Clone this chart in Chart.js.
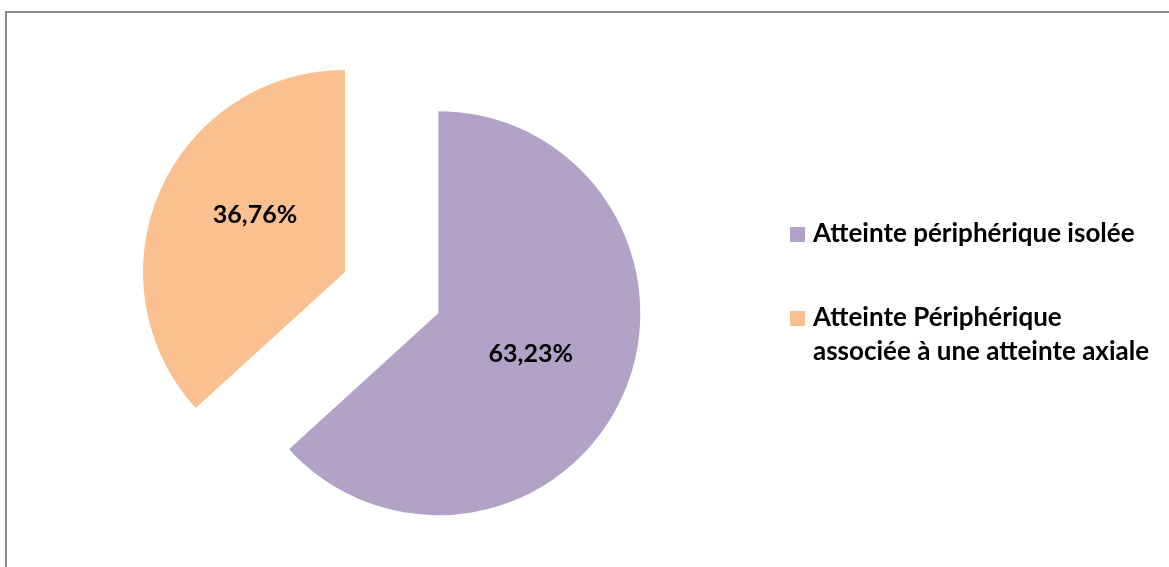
<!DOCTYPE html>
<html lang="fr">
<head>
<meta charset="utf-8">
<title>Répartition de l'atteinte périphérique</title>
<script src="https://cdn.jsdelivr.net/npm/chart.js@4/dist/chart.umd.min.js"></script>
<style>
  html, body { margin: 0; padding: 0; background: #ffffff; }
  #wrap { position: relative; width: 1169px; height: 567px; }
  canvas { display: block; }
</style>
</head>
<body>
<div id="wrap"><canvas id="pie" width="1169" height="567"></canvas></div>
<script>
// Categories and their shares (%)
const categories = [
  'Atteinte périphérique isolée',
  ['Atteinte Périphérique', 'associée à une atteinte axiale']
];
const shares = [63.23, 36.76];
const shareLabels = ['63,23%', '36,76%'];
const sliceColors = ['#B3A2C7', '#FAC090'];

const FONT = 'Lato, "Open Sans", "Liberation Sans", sans-serif';
const LEGEND_SIZE = 26;
const LABEL_SIZE = 25;

// Thin grey frame along the top and left edges
const framePlugin = {
  id: 'frame',
  beforeDraw(chart) {
    const ctx = chart.ctx;
    ctx.save();
    ctx.fillStyle = '#8c8c8c';
    ctx.fillRect(5, 11, 2, chart.height - 11);
    ctx.fillRect(5, 11, chart.width - 5, 2);
    ctx.restore();
  }
};

// Pull slices out of the pie along their mid-angle without changing their radius
const explodePlugin = {
  id: 'explode',
  beforeDatasetDraw(chart, args, opts) {
    args.meta.data.forEach((arc, i) => {
      const dist = opts.distances[i] || 0;
      if (!arc.$baseDraw) arc.$baseDraw = arc.draw;
      arc.draw = function (ctx, area) {
        const mid = (this.startAngle + this.endAngle) / 2;
        ctx.save();
        ctx.translate(Math.cos(mid) * dist, Math.sin(mid) * dist);
        this.$baseDraw(ctx, area);
        ctx.restore();
      };
    });
  }
};

// Percentage labels placed inside each (exploded) slice
const sliceLabelPlugin = {
  id: 'sliceLabels',
  afterDatasetsDraw(chart, args, opts) {
    const ctx = chart.ctx;
    const meta = chart.getDatasetMeta(0);
    const distances = chart.options.plugins.explode.distances;
    ctx.save();
    ctx.font = `bold ${LABEL_SIZE}px ${FONT}`;
    ctx.fillStyle = '#000000';
    ctx.textAlign = 'center';
    ctx.textBaseline = 'middle';
    meta.data.forEach((arc, i) => {
      const mid = (arc.startAngle + arc.endAngle) / 2;
      const dist = distances[i] || 0;
      const cx = arc.x + Math.cos(mid) * dist;
      const cy = arc.y + Math.sin(mid) * dist;
      const place = opts.placement[i];
      const a = mid + place.turn * Math.PI / 180;
      const r = arc.outerRadius * place.frac;
      ctx.fillText(shareLabels[i], cx + Math.cos(a) * r, cy + Math.sin(a) * r);
    });
    ctx.restore();
  }
};

// Legend on the right: colour square + bold (possibly multi-line) text
const sideLegendPlugin = {
  id: 'sideLegend',
  afterDraw(chart, args, opts) {
    const ctx = chart.ctx;
    const ds = chart.data.datasets[0];
    ctx.save();
    ctx.font = `bold ${LEGEND_SIZE}px ${FONT}`;
    ctx.textAlign = 'left';
    ctx.textBaseline = 'alphabetic';
    let baseline = opts.top;
    chart.data.labels.forEach((label, i) => {
      const lines = Array.isArray(label) ? label : [label];
      ctx.fillStyle = ds.backgroundColor[i];
      ctx.fillRect(opts.left, baseline - opts.box, opts.box, opts.box);
      ctx.fillStyle = '#000000';
      lines.forEach((line, k) => {
        ctx.fillText(line, opts.left + opts.box + opts.gap, baseline + k * opts.lineHeight);
      });
      baseline += opts.itemSpacing;
    });
    ctx.restore();
  }
};

function draw() {
  new Chart(document.getElementById('pie'), {
    type: 'pie',
    data: {
      labels: categories,
      datasets: [{
        data: shares,
        backgroundColor: sliceColors,
        borderWidth: 0,
        hoverOffset: 0
      }]
    },
    options: {
      responsive: false,
      animation: false,
      events: [],
      radius: 202,
      layout: { padding: { left: 0, right: 479, top: 0, bottom: 23 } },
      plugins: {
        legend: { display: false },
        tooltip: { enabled: false },
        explode: { distances: [102, 0] },
        sliceLabels: {
          placement: [
            { frac: 0.5, turn: 0 },
            { frac: 0.527, turn: 8.5 }
          ]
        },
        sideLegend: { left: 790, top: 242, box: 15, gap: 8, lineHeight: 34, itemSpacing: 84 }
      }
    },
    plugins: [framePlugin, explodePlugin, sliceLabelPlugin, sideLegendPlugin]
  });
}

Promise.all([
  document.fonts.load(`bold ${LEGEND_SIZE}px Lato`),
  document.fonts.load(`bold ${LABEL_SIZE}px Lato`)
]).then(draw, draw);
</script>
</body>
</html>
